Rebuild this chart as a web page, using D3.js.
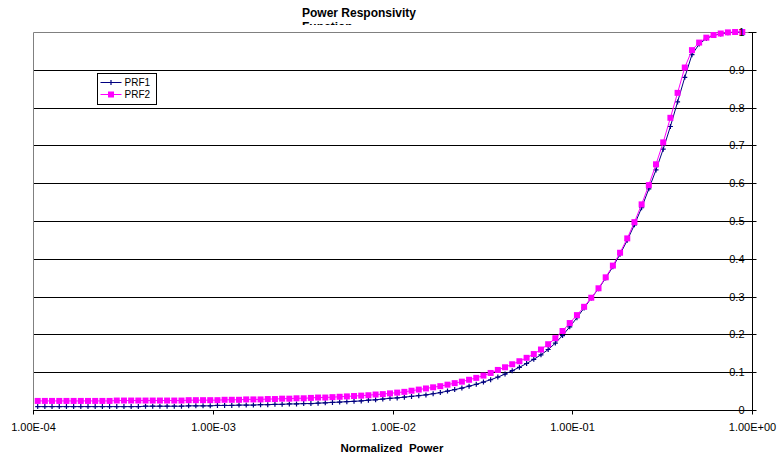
<!DOCTYPE html>
<html>
<head>
<meta charset="utf-8">
<script src="https://cdn.jsdelivr.net/npm/d3@7"></script>
<style>
  body { margin: 0; background: #fff; }
  text { font-family: Arial, "Liberation Sans", sans-serif; }
</style>
</head>
<body>
<div id="chart"></div>
<script>
var width = 779,
    height = 457;

var title = "Power Responsivity",
    title2 = "Function",
    xTitle = "Normalized  Power";

var seriesNames = ["PRF1", "PRF2"];

var xTicks = [1e-4, 1e-3, 1e-2, 1e-1, 1];
var yTicks = [0, 0.1, 0.2, 0.3, 0.4, 0.5, 0.6, 0.7, 0.8, 0.9, 1];

// normalized power (log spaced samples)
var power = [
  1.062e-4, 1.164e-4, 1.276e-4, 1.400e-4, 1.535e-4, 1.683e-4, 1.845e-4, 2.023e-4, 2.218e-4, 2.432e-4,
  2.667e-4, 2.924e-4, 3.206e-4, 3.516e-4, 3.855e-4, 4.227e-4, 4.634e-4, 5.082e-4, 5.572e-4, 6.109e-4,
  6.699e-4, 7.345e-4, 8.054e-4, 8.831e-4, 9.683e-4,
  1.062e-3, 1.164e-3, 1.276e-3, 1.400e-3, 1.535e-3, 1.683e-3, 1.845e-3, 2.023e-3, 2.218e-3, 2.432e-3,
  2.667e-3, 2.924e-3, 3.206e-3, 3.516e-3, 3.855e-3, 4.227e-3, 4.634e-3, 5.082e-3, 5.572e-3, 6.109e-3,
  6.699e-3, 7.345e-3, 8.054e-3, 8.831e-3, 9.683e-3,
  1.062e-2, 1.164e-2, 1.276e-2, 1.400e-2, 1.535e-2, 1.683e-2, 1.845e-2, 2.023e-2, 2.218e-2, 2.432e-2,
  2.667e-2, 2.924e-2, 3.206e-2, 3.516e-2, 3.855e-2, 4.227e-2, 4.634e-2, 5.082e-2, 5.572e-2, 6.109e-2,
  6.699e-2, 7.345e-2, 8.054e-2, 8.831e-2, 9.683e-2,
  1.062e-1, 1.164e-1, 1.276e-1, 1.400e-1, 1.535e-1, 1.683e-1, 1.845e-1, 2.023e-1, 2.218e-1, 2.432e-1,
  2.667e-1, 2.924e-1, 3.206e-1, 3.516e-1, 3.855e-1, 4.227e-1, 4.634e-1, 5.082e-1, 5.572e-1, 6.109e-1,
  6.699e-1, 7.345e-1, 8.054e-1, 8.831e-1
];

var prf1 = [
  0.009, 0.009, 0.009, 0.009, 0.009, 0.009, 0.009, 0.009, 0.009, 0.009,
  0.009, 0.009, 0.009, 0.009, 0.009, 0.010, 0.010, 0.010, 0.010, 0.010,
  0.010, 0.011, 0.011, 0.011, 0.011, 0.012, 0.012, 0.012, 0.013, 0.013,
  0.013, 0.014, 0.014, 0.015, 0.015, 0.016, 0.016, 0.017, 0.017, 0.018,
  0.019, 0.020, 0.021, 0.022, 0.023, 0.024, 0.026, 0.027, 0.029, 0.031,
  0.032, 0.034, 0.036, 0.038, 0.040, 0.043, 0.046, 0.050, 0.054, 0.058,
  0.063, 0.068, 0.074, 0.080, 0.087, 0.095, 0.104, 0.113, 0.123, 0.134,
  0.146, 0.160, 0.177, 0.197, 0.220, 0.244, 0.270, 0.296,
  0.321, 0.349, 0.379, 0.412, 0.449, 0.490, 0.535, 0.585, 0.635, 0.690, 0.750,
  0.815, 0.880, 0.940, 0.968, 0.983, 0.991, 0.995, 0.998, 0.999, 1.000
];

var prf2 = [
  0.024, 0.024, 0.024, 0.024, 0.024, 0.024, 0.024, 0.024, 0.024, 0.024,
  0.024, 0.025, 0.025, 0.025, 0.025, 0.025, 0.025, 0.025, 0.025, 0.025,
  0.025, 0.026, 0.026, 0.026, 0.026,
  0.026, 0.027, 0.027, 0.027, 0.028, 0.028, 0.028, 0.029, 0.029, 0.030,
  0.030, 0.031, 0.031, 0.032, 0.033, 0.033,
  0.034, 0.035, 0.036, 0.037, 0.038, 0.039, 0.041, 0.042, 0.044,
  0.046, 0.048, 0.051, 0.054, 0.057, 0.060, 0.063, 0.067, 0.071, 0.075,
  0.080, 0.085, 0.091, 0.098, 0.106, 0.113, 0.121, 0.129, 0.138, 0.148,
  0.160, 0.174, 0.190, 0.209, 0.230, 0.251, 0.273, 0.297,
  0.322, 0.351, 0.382, 0.416, 0.454, 0.497, 0.544, 0.595, 0.650, 0.708, 0.773,
  0.839, 0.906, 0.952, 0.972, 0.985, 0.992, 0.996, 0.999, 1.000, 1.000
];

var colors = ["#000080", "#ff00ff"];

var plot = {left: 33, right: 752, top: 32, bottom: 410};

var svg = d3.select("#chart").append("svg")
    .attr("width", width)
    .attr("height", height)
    .style("display", "block")
    .style("background", "#fff");

var x = d3.scaleLog().domain([1e-4, 1]).range([plot.left, plot.right]);
var y = d3.scaleLinear().domain([0, 1]).range([plot.bottom, plot.top]);

// title (second line is cut off by the plot area)
svg.append("text")
    .attr("x", 302)
    .attr("y", 16.7)
    .attr("font-size", 12)
    .attr("font-weight", "bold")
    .text(title);

svg.append("clipPath").attr("id", "titleclip")
  .append("rect").attr("x", 0).attr("y", 0).attr("width", width).attr("height", 25);

svg.append("text")
    .attr("x", 302)
    .attr("y", 31)
    .attr("font-size", 12)
    .attr("font-weight", "bold")
    .attr("clip-path", "url(#titleclip)")
    .text(title2);

// gridlines
svg.append("g")
  .selectAll("line")
  .data(yTicks.filter(function(d) { return d > 0 && d < 1; }))
  .enter().append("line")
    .attr("x1", plot.left)
    .attr("x2", plot.right)
    .attr("y1", function(d) { return Math.round(y(d)) + 0.5; })
    .attr("y2", function(d) { return Math.round(y(d)) + 0.5; })
    .attr("stroke", "#000")
    .attr("stroke-width", 1);

// plot border (top and left, gray)
svg.append("path")
    .attr("fill", "none")
    .attr("stroke", "#808080")
    .attr("stroke-width", 1)
    .attr("d", "M" + (plot.left + 0.5) + "," + (plot.bottom + 0.5) +
               "V" + (plot.top + 0.5) + "H" + (plot.right + 0.5));

// x axis
var fmt = function(d) {
  var e = Math.round(Math.log10(d));
  return "1.00E" + (e < 0 ? "-" : "+") + (Math.abs(e) < 10 ? "0" : "") + Math.abs(e);
};

var xAxis = svg.append("g")
    .attr("transform", "translate(0," + (plot.bottom + 0.5) + ")")
    .call(d3.axisBottom(x).tickValues(xTicks).tickFormat(fmt)
      .tickSize(4).tickSizeOuter(0).tickPadding(9));
xAxis.select(".domain").attr("d", "M" + plot.left + ",0H" + (plot.right + 4));
xAxis.selectAll("text").attr("font-size", 11).attr("font-family", null).attr("fill", "#000");
xAxis.selectAll("line").attr("stroke", "#000");
xAxis.selectAll(".tick").attr("transform", function(d) {
  return "translate(" + (Math.round(x(d)) + 0.5) + ",0)";
});

svg.append("text")
    .attr("x", 392)
    .attr("y", 452)
    .attr("text-anchor", "middle")
    .attr("font-size", 11.5)
    .attr("font-weight", "bold")
    .attr("xml:space", "preserve")
    .style("white-space", "pre")
    .text(xTitle);

// series
var line = d3.line()
    .x(function(d) { return x(d[0]); })
    .y(function(d) { return y(d[1]); });

var data1 = power.map(function(p, i) { return [p, prf1[i]]; });
var data2 = power.map(function(p, i) { return [p, prf2[i]]; });

svg.append("path")
    .datum(data1)
    .attr("fill", "none")
    .attr("stroke", colors[0])
    .attr("stroke-width", 1)
    .attr("d", line);

svg.append("g")
  .selectAll("path")
  .data(data1)
  .enter().append("path")
    .attr("transform", function(d) { return "translate(" + x(d[0]) + "," + y(d[1]) + ")"; })
    .attr("d", "M-2.5,0H2.5M0,-2.5V2.5")
    .attr("stroke", colors[0])
    .attr("stroke-width", 1.2)
    .attr("fill", "none");

svg.append("path")
    .datum(data2)
    .attr("fill", "none")
    .attr("stroke", colors[1])
    .attr("stroke-width", 1)
    .attr("d", line);

svg.append("g")
  .selectAll("rect")
  .data(data2)
  .enter().append("rect")
    .attr("x", function(d) { return x(d[0]) - 3; })
    .attr("y", function(d) { return y(d[1]) - 3; })
    .attr("width", 6)
    .attr("height", 6)
    .attr("fill", colors[1]);

// y axis on the right, labels inside
var yAxis = svg.append("g")
    .attr("transform", "translate(" + (plot.right + 0.5) + ",0)")
    .call(d3.axisLeft(y).tickValues(yTicks).tickFormat(d3.format("")).tickSize(4).tickSizeOuter(0).tickPadding(4));
yAxis.select(".domain").attr("d", "M0," + plot.top + "V" + (plot.bottom + 4)).attr("stroke", "#000");
yAxis.selectAll("text").attr("font-size", 11).attr("font-family", null).attr("fill", "#000");
yAxis.selectAll(".tick").attr("transform", function(d) {
  return "translate(0," + (Math.round(y(d)) + 0.5) + ")";
});
yAxis.selectAll(".tick line").attr("x1", 4).attr("x2", -4).attr("stroke", "#000");

// legend
var legend = svg.append("g").attr("transform", "translate(97.5,73.5)");
legend.append("rect")
    .attr("width", 59)
    .attr("height", 31)
    .attr("fill", "#fff")
    .attr("stroke", "#000")
    .attr("stroke-width", 1);

var item = legend.selectAll("g.item")
    .data(seriesNames)
  .enter().append("g")
    .attr("class", "item")
    .attr("transform", function(d, i) { return "translate(0," + (9 + i * 12) + ")"; });

item.append("line")
    .attr("x1", 3).attr("x2", 24)
    .attr("stroke", function(d, i) { return colors[i]; })
    .attr("stroke-width", 1);

item.filter(function(d, i) { return i === 0; }).append("path")
    .attr("d", "M13.5,-2.5V2.5")
    .attr("stroke", colors[0])
    .attr("stroke-width", 1.2);

item.filter(function(d, i) { return i === 1; }).append("rect")
    .attr("x", 10.5).attr("y", -3)
    .attr("width", 6).attr("height", 6)
    .attr("fill", colors[1]);

item.append("text")
    .attr("x", 27)
    .attr("y", 3.5)
    .attr("font-size", 10)
    .text(function(d) { return d; });
</script>
</body>
</html>
